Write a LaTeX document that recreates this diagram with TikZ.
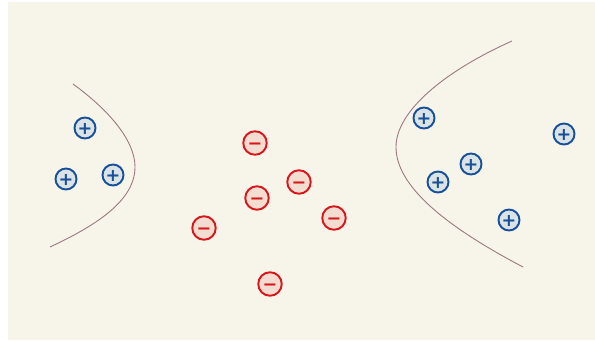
\documentclass[tikz,border=0pt]{standalone}
\usepackage{fontspec}
\usepackage{tikz}
\usetikzlibrary{positioning}
\newfontfamily\signo{DejaVu Sans}
\definecolor{fondocrema}{HTML}{F7F5EA}
\definecolor{azulcarga}{HTML}{17509A}
\definecolor{azulfondo}{HTML}{DCE3E5}
\definecolor{rojocarga}{HTML}{D9161C}
\definecolor{rojofondo}{HTML}{F3DCD0}
\definecolor{curvamalva}{HTML}{9A7780}
\tikzset{
  cargapos/.style={circle, draw=azulcarga, fill=azulfondo, text=azulcarga, line width=1.1pt, minimum size=0.42cm, inner sep=0pt, text height=0.72em, text depth=0pt, font=\signo\fontsize{10}{10}\selectfont\bfseries},
  carganeg/.style={circle, draw=rojocarga, fill=rojofondo, text=rojocarga, line width=1.1pt, minimum size=0.47cm, inner sep=0pt, text height=0.72em, text depth=0pt, font=\signo\fontsize{10}{10}\selectfont\bfseries},
  frontera/.style={draw=curvamalva, line width=0.5pt}
}
\begin{document}
\begin{tikzpicture}
          \useasboundingbox (0,0) rectangle (11.9,6.82);
          % Fondo
          \fill[fondocrema] (0.16,0.02) rectangle (11.9,6.78);

          % Fronteras
          \draw[frontera] (1.46,5.14) .. controls (2.2,4.6) and (2.70,4.0) .. (2.70,3.48) .. controls (2.70,2.8) and (1.9,2.3) .. (1.00,1.88);
          \draw[frontera] (10.24,6.00) .. controls (8.9,5.4) and (7.92,4.6) .. (7.92,3.88) .. controls (7.92,3.1) and (8.9,2.3) .. (10.46,1.48);

          % Cargas positivas a la izquierda
          \node[cargapos] (p1) at (1.70,4.26) {+};
          \node[cargapos] (p2) at (1.32,3.24) {+};
          \node[cargapos] (p3) at (2.26,3.32) {+};

          % Cargas negativas en el centro
          \node[carganeg] (n1) at (5.10,3.96) {−};
          \node[carganeg] (n2) at (5.98,3.18) {−};
          \node[carganeg] (n3) at (5.14,2.86) {−};
          \node[carganeg] (n4) at (6.68,2.46) {−};
          \node[carganeg] (n5) at (4.08,2.26) {−};
          \node[carganeg] (n6) at (5.40,1.14) {−};

          % Cargas positivas a la derecha
          \node[cargapos] (p4) at (8.48,4.46) {+};
          \node[cargapos] (p5) at (11.28,4.14) {+};
          \node[cargapos] (p6) at (9.42,3.54) {+};
          \node[cargapos] (p7) at (8.76,3.18) {+};
          \node[cargapos] (p8) at (10.18,2.42) {+};
        \end{tikzpicture}
\end{document}
